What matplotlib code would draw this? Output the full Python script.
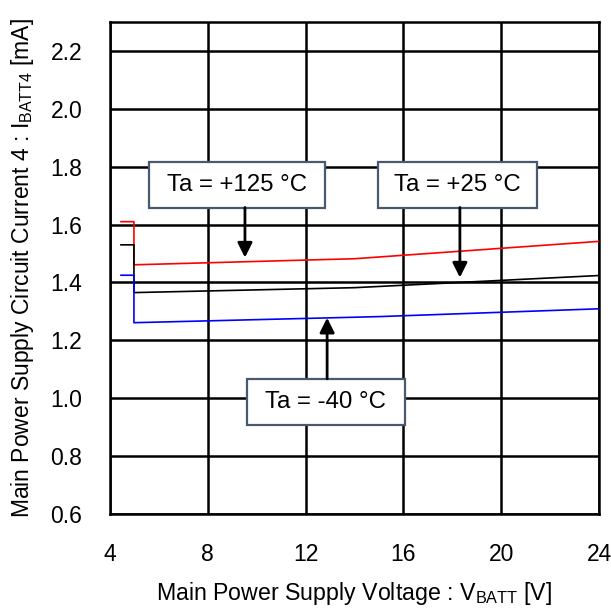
import matplotlib
matplotlib.use('Agg')
import matplotlib.pyplot as plt
from matplotlib.patches import Rectangle

plt.rcParams['font.family'] = ['Liberation Sans', 'DejaVu Sans']
plt.rcParams['mathtext.fontset'] = 'custom'
plt.rcParams['mathtext.rm'] = 'Liberation Sans'

# data
v_red = [4.45, 4.98, 4.98, 14, 24]
i_red = [1.61, 1.61, 1.461, 1.482, 1.542]
v_black = [4.45, 4.98, 4.98, 14, 24]
i_black = [1.53, 1.53, 1.365, 1.382, 1.424]
v_blue = [4.45, 4.98, 4.98, 15, 24]
i_blue = [1.425, 1.425, 1.261, 1.282, 1.309]

x_ticks = [4, 8, 12, 16, 20, 24]
y_ticks = [0.6, 0.8, 1.0, 1.2, 1.4, 1.6, 1.8, 2.0, 2.2]

fig = plt.figure(figsize=(6.11, 6.09), dpi=100)
ax = fig.add_axes([0.18, 0.156, 0.8004, 0.8079])

ax.plot(v_red, i_red, color='#ff0000', lw=1.2, zorder=3)
ax.plot(v_black, i_black, color='black', lw=1.2, zorder=3)
ax.plot(v_blue, i_blue, color='#0000ff', lw=1.2, zorder=3)

ax.set_xlim(4, 24)
ax.set_ylim(0.6, 2.3)
ax.set_xticks(x_ticks)
ax.set_yticks(y_ticks)
ax.set_yticklabels([f'{y:.1f}' for y in y_ticks])
ax.tick_params(length=0, labelsize=16.5)
ax.tick_params(axis='x', pad=21)
ax.tick_params(axis='y', pad=20)
ax.grid(True, color='black', lw=1.8)
for s in ax.spines.values():
    s.set_linewidth(1.8)

ax.set_xlabel(r'Main Power Supply Voltage : V$_{\mathrm{BATT}}$ [V]', fontsize=16.7, labelpad=10)
ax.set_ylabel(r'Main Power Supply Circuit Current 4 : I$_{\mathrm{BATT4}}$ [mA]', fontsize=16.5, labelpad=10)

# labels with boxes and arrows
boxes = [
    ('Ta = +125 °C', 5.59, 12.79, 1.659, 1.815, (9.52, 1.659), (9.52, 1.486)),
    ('Ta = +25 °C', 14.96, 21.46, 1.659, 1.815, (18.31, 1.659), (18.31, 1.417)),
    ('Ta = -40 °C', 9.6, 16.06, 0.906, 1.067, (12.88, 1.067), (12.88, 1.278)),
]
for txt, x0, x1, y0, y1, start, tip in boxes:
    ax.add_patch(Rectangle((x0, y0), x1 - x0, y1 - y0, facecolor='white',
                           edgecolor='#4a5a6e', lw=1.6, zorder=5))
    ax.text((x0 + x1) / 2, (y0 + y1) / 2, txt, ha='center', va='center',
            fontsize=17.3, zorder=6)
    ax.annotate('', xy=tip, xytext=start,
                arrowprops=dict(arrowstyle='-|>', color='black', lw=2,
                                mutation_scale=22, shrinkA=0, shrinkB=0),
                zorder=6)

fig.savefig('out.png', dpi=100)
